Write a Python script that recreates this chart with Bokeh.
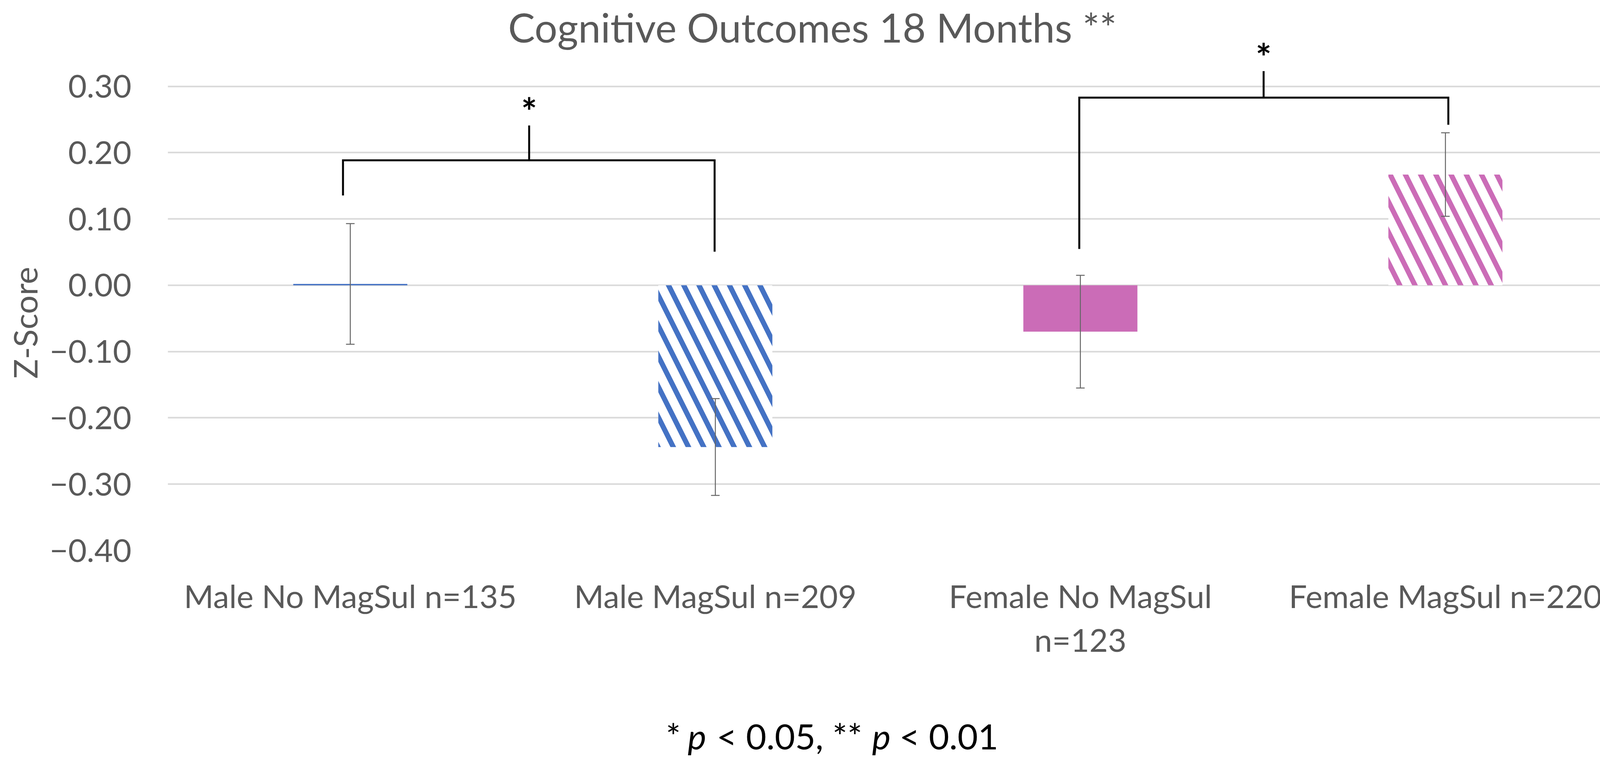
from bokeh.plotting import figure
from bokeh.layouts import column
from bokeh.models import (FixedTicker, CustomJSTickFormatter, Whisker, ColumnDataSource,
                          Label, TeeHead)
from bokeh.embed import file_html
from bokeh.resources import INLINE
from bokeh.core.properties import value

# ---------------- data ----------------
categories = ["Male No MagSul n=135", "Male MagSul n=209",
              "Female No MagSul\nn=123", "Female MagSul n=220"]
zscores = [0.002, -0.244, -0.070, 0.167]
sem = [0.091, 0.073, 0.085, 0.063]
y_ticks = [-0.40, -0.30, -0.20, -0.10, 0.00, 0.10, 0.20, 0.30]

# significance brackets (pairs of bars compared)
bracket_pairs = [(0, 1), (2, 3)]
bracket_top = [0.1885, 0.283]
bracket_left_end = [0.1355, 0.0548]
bracket_right_end = [0.0506, 0.242]
bracket_tick_top = [0.241, 0.323]
bracket_label = ["*", "*"]

title_text = "Cognitive Outcomes 18 Months **"
y_label = "Z-Score"
footnote_parts = ["*", "p", "< 0.05, **", "p", "< 0.01"]
footnote_styles = ["normal", "italic", "normal", "italic", "normal"]

# ---------------- style ----------------
BLUE = "#4472C4"
PINK = "#CB6CB7"
GREY = "#595959"
FONT = "Lato"

fill_colors = [BLUE, "#FFFFFF", PINK, "#FFFFFF"]
hatch_colors = [BLUE, BLUE, PINK, PINK]
hatch_patterns = [" ", "\\", " ", "\\"]

W = 4190
H_MAIN = 1760
H_FOOT = 188

xpos = [i + 0.5 for i in range(len(categories))]
src = ColumnDataSource(dict(
    x=xpos, top=zscores, fill=fill_colors, hcol=hatch_colors, hpat=hatch_patterns,
    upper=[v + e for v, e in zip(zscores, sem)],
    lower=[v - e for v, e in zip(zscores, sem)],
))

p = figure(width=W, height=H_MAIN, x_range=(0, 4), y_range=(-0.40, 0.4229),
           output_backend="svg", toolbar_location=None,
           min_border_left=429, min_border_right=23, min_border_top=12,
           min_border_bottom=H_MAIN - 1409)
p.outline_line_color = None
p.background_fill_color = "white"

p.vbar(x="x", top="top", bottom=0, width=0.3125, source=src,
       fill_color="fill", line_color=None,
       hatch_pattern="hpat", hatch_color="hcol", hatch_scale=78, hatch_weight=13)

whisk = Whisker(base="x", upper="upper", lower="lower", source=src,
                line_color="#666666", line_width=2.5, level="annotation",
                upper_head=TeeHead(size=22, line_color="#666666", line_width=2.5),
                lower_head=TeeHead(size=22, line_color="#666666", line_width=2.5))
p.add_layout(whisk)

# brackets
offsets_l = [-0.02, -0.003]
offsets_r = [-0.002, 0.008]
offsets_t = [-0.01, 0.002]
xs, ys = [], []
for k, (a, b) in enumerate(bracket_pairs):
    xl = xpos[a] + offsets_l[k]
    xr = xpos[b] + offsets_r[k]
    xm = (xpos[a] + xpos[b]) / 2 + offsets_t[k]
    xs.append([xl, xl, xr, xr])
    ys.append([bracket_left_end[k], bracket_top[k], bracket_top[k], bracket_right_end[k]])
    xs.append([xm, xm])
    ys.append([bracket_top[k], bracket_tick_top[k]])
p.multi_line(xs, ys, line_color="black", line_width=5, line_join="miter")

star_x = [(xpos[a] + xpos[b]) / 2 + offsets_t[k] for k, (a, b) in enumerate(bracket_pairs)]
star_y = [t + 0.022 for t in bracket_tick_top]
p.text(x=star_x, y=star_y, text=bracket_label, text_align="center", text_baseline="alphabetic",
       text_font=value(FONT), text_font_size="96px", text_font_style="bold", text_color="black")

# axes
p.yaxis.ticker = FixedTicker(ticks=y_ticks)
p.yaxis.formatter = CustomJSTickFormatter(code="""
    const s = Math.abs(tick).toFixed(2);
    return (tick < -1e-9 ? "\u2212" : "") + s;
""")
p.yaxis.axis_line_color = None
p.yaxis.major_tick_line_color = None
p.yaxis.minor_tick_line_color = None
p.yaxis.major_tick_out = 0
p.yaxis.major_tick_in = 0
p.yaxis.major_label_standoff = 93
p.yaxis.major_label_text_font = FONT
p.yaxis.major_label_text_font_size = "82px"
p.yaxis.major_label_text_color = GREY
# trailing em/en spaces keep the label centred on the gridded area (-0.40..0.30)
p.yaxis.axis_label = y_label + "\u2003\u2003\u2003\u2002"
p.yaxis.axis_label_text_font = FONT
p.yaxis.axis_label_text_font_size = "84px"
p.yaxis.axis_label_text_font_style = "normal"
p.yaxis.axis_label_text_color = GREY
p.yaxis.axis_label_standoff = 10

p.xaxis.ticker = FixedTicker(ticks=xpos)
p.xaxis.major_label_overrides = {x: c for x, c in zip(xpos, categories)}
p.xaxis.axis_line_color = None
p.xaxis.major_tick_line_color = None
p.xaxis.minor_tick_line_color = None
p.xaxis.major_tick_out = 0
p.xaxis.major_tick_in = 0
p.xaxis.major_label_standoff = 66
p.xaxis.major_label_text_font = FONT
p.xaxis.major_label_text_font_size = "82px"
p.xaxis.major_label_text_color = GREY
p.xaxis.major_label_text_line_height = 1.15

p.xgrid.grid_line_color = None
p.ygrid.grid_line_color = "#D9D9D9"
p.ygrid.grid_line_width = 4

# title
p.add_layout(Label(x=1.766, y=0.3899, text=title_text,
                   text_align="center", text_baseline="alphabetic",
                   text_font=FONT, text_font_size="103px", text_color=GREY))

# ---------------- footnote strip (frame aligned with the main plot) ----------------
f = figure(width=W, height=H_FOOT, x_range=p.x_range, y_range=(0, H_FOOT),
           output_backend="svg", toolbar_location=None,
           x_axis_type=None, y_axis_type=None, min_border=0, title=None)
f.outline_line_color = None
f.grid.visible = False
foot_px = [1712, 1768, 1842, 2240, 2310]
foot_x = [(v - 437) / 934.5 for v in foot_px]
fsrc = ColumnDataSource(dict(x=foot_x, y=[65] * len(foot_x), text=footnote_parts,
                             style=footnote_styles))
f.text(x="x", y="y", text="text", source=fsrc, text_align="left", text_baseline="alphabetic",
       text_font=value(FONT), text_font_size="90px", text_font_style="style",
       text_color="black")

layout = column(p, f, spacing=0)
open("out.html", "w").write(file_html(layout, INLINE))
